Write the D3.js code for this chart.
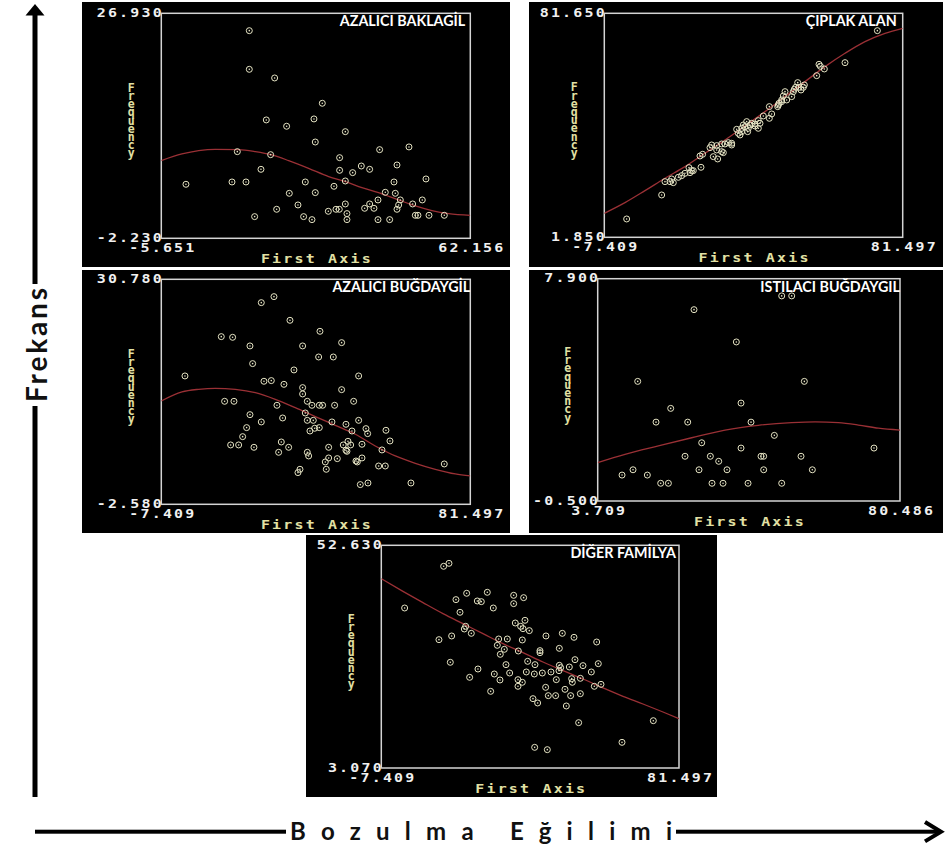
<!DOCTYPE html>
<html><head><meta charset="utf-8">
<script src="https://cdn.jsdelivr.net/npm/d3@7"></script>
<style>body{margin:0;background:#fff;} svg{display:block}</style>
</head><body><svg id="c" width="945" height="846"></svg>
<script>
// ---------------- DATA ----------------
const panelTitles = ["AZALICI BAKLAGİL", "ÇIPLAK ALAN", "AZALICI BUĞDAYGİL", "ISTILACI BUĞDAYGIL", "DİĞER FAMİLYA"];
const xDomains = [[-5.651, 62.156], [-7.409, 81.497], [-7.409, 81.497], [3.709, 80.486], [-7.409, 81.497]];
const yDomains = [[-2.230, 26.930], [1.850, 81.650], [-2.580, 30.780], [-0.500, 7.900], [3.070, 52.630]];
const xTickLabels = [["-5.651", "62.156"], ["-7.409", "81.497"], ["-7.409", "81.497"], ["3.709", "80.486"], ["-7.409", "81.497"]];
const yTickLabels = [["-2.230", "26.930"], ["1.850", "81.650"], ["-2.580", "30.780"], ["-0.500", "7.900"], ["3.070", "52.630"]];
const xAxisTitle = "First Axis";
const yAxisTitle = "Frequency";
const outerYLabel = "Frekans";
const outerXLabel = "Bozulma Eğilimi";

const pointsBaklagil = [[13.66,24.68],[13.66,19.67],[19.22,18.55],[29.68,15.27],[17.39,13.11],[27.85,13.24],[21.85,12.29],[34.73,11.59],[28.14,10.25],[11.03,9.00],[18.34,8.61],[42.26,9.26],[48.70,9.61],[33.48,8.22],[16.22,6.71],[33.48,6.58],[36.34,6.28],[38.24,7.14],[40.07,6.71],[46.07,7.27],[-0.24,4.77],[9.86,5.07],[12.93,5.07],[25.95,5.07],[34.73,5.20],[32.24,4.51],[45.41,5.07],[52.43,5.46],[22.44,3.60],[28.14,3.69],[43.50,3.73],[45.70,3.60],[41.90,2.74],[46.80,2.74],[51.62,2.74],[24.34,2.09],[34.73,2.22],[40.07,2.22],[49.50,2.22],[46.43,2.09],[19.66,1.53],[31.00,1.27],[32.68,1.53],[33.41,1.53],[38.97,1.66],[41.02,1.66],[46.07,1.53],[35.09,0.97],[14.83,0.58],[25.58,0.58],[27.41,0.19],[35.09,0.19],[41.90,0.19],[44.46,0.19],[50.09,0.75],[50.67,0.75],[53.09,0.75],[56.45,0.75]];
const pointsCiplak = [[73.95,75.47],[64.31,64.07],[56.56,63.48],[56.96,62.77],[58.15,61.82],[55.87,59.44],[50.21,56.95],[52.19,56.12],[49.61,55.29],[51.20,54.34],[48.91,53.74],[46.43,53.74],[48.42,51.96],[45.93,52.20],[45.44,50.77],[46.93,50.77],[44.64,49.59],[44.25,48.40],[41.76,48.40],[42.46,45.79],[39.97,45.07],[41.76,44.24],[38.48,43.41],[37.49,42.22],[36.50,42.46],[35.01,43.06],[34.01,41.87],[34.51,41.27],[35.50,40.68],[38.48,40.68],[33.52,39.49],[33.02,38.31],[32.03,40.32],[30.54,35.34],[29.54,35.57],[28.55,35.10],[27.56,35.10],[26.07,34.51],[24.08,33.79],[27.56,32.37],[28.05,32.01],[21.89,31.42],[21.10,30.82],[25.07,30.59],[26.36,29.76],[21.40,26.79],[17.82,26.67],[19.11,25.60],[18.12,24.89],[16.63,24.65],[15.64,23.82],[14.64,23.22],[12.66,22.63],[12.16,21.68],[13.15,21.32],[10.67,21.68],[9.68,16.93],[-0.75,8.38],[33.52,40.68],[37.49,41.51],[44.44,48.99],[45.44,50.18],[49.21,54.57],[50.60,55.29],[51.89,55.29],[36.00,41.87],[38.98,42.46],[35.30,39.49],[32.52,38.90],[26.07,32.96],[24.58,34.74],[30.54,34.74],[18.62,25.60]];
const pointsBugdaygil = [[25.01,28.21],[21.36,27.32],[29.61,24.70],[38.24,23.07],[9.85,22.28],[13.11,22.18],[18.10,20.90],[33.25,20.90],[44.47,21.39],[37.86,19.26],[42.08,19.26],[18.87,18.28],[30.76,17.34],[-0.60,16.45],[49.37,16.45],[22.13,15.66],[24.24,15.76],[27.88,15.21],[33.25,14.72],[33.25,13.78],[44.47,14.42],[10.81,12.69],[13.50,12.69],[34.60,12.69],[35.94,12.10],[38.05,12.10],[39.01,12.10],[42.46,12.10],[25.87,12.10],[47.93,12.69],[18.10,10.71],[34.02,10.96],[27.50,10.22],[21.36,9.63],[34.60,9.87],[36.32,9.87],[41.69,9.63],[49.37,9.87],[45.72,9.28],[17.14,8.79],[38.05,8.79],[36.71,8.69],[35.36,8.29],[47.45,8.29],[51.48,8.64],[51.96,7.90],[57.23,8.39],[15.99,7.45],[58.38,6.81],[12.54,6.22],[14.84,6.22],[19.25,5.87],[27.12,6.66],[29.23,5.87],[40.74,5.87],[44.95,6.22],[46.30,6.76],[47.07,6.22],[50.33,6.32],[45.72,5.43],[26.35,5.13],[34.60,5.13],[34.98,4.59],[40.74,4.29],[43.23,4.19],[39.78,3.70],[48.60,3.84],[50.33,4.29],[56.08,5.48],[55.12,3.10],[57.04,3.10],[40.06,2.61],[32.49,2.61],[31.91,2.12],[49.85,0.34],[52.05,0.58],[64.42,0.58],[74.01,3.40],[46.01,5.28],[48.98,3.70]];
const pointsIstilaci = [[50.44,7.25],[52.98,7.25],[28.17,6.73],[38.92,5.51],[13.87,4.02],[56.19,4.02],[40.11,3.20],[22.25,3.00],[18.52,2.48],[26.57,2.48],[42.65,2.48],[30.12,1.70],[48.57,1.98],[40.11,1.50],[73.88,1.50],[25.89,1.19],[32.32,1.19],[34.44,1.00],[45.19,1.19],[45.86,1.19],[55.35,1.19],[12.68,0.68],[29.44,0.68],[36.55,0.68],[45.86,0.68],[58.22,0.68],[9.89,0.48],[16.32,0.48],[19.71,0.17],[21.66,0.17],[32.74,0.17],[35.54,0.17],[41.89,0.17],[50.44,0.17]];
const pointsDiger = [[11.21,47.96],[12.80,48.62],[-0.44,38.68],[14.89,40.54],[18.08,41.95],[24.25,42.17],[21.26,40.24],[22.46,40.09],[26.04,38.68],[32.12,41.50],[32.12,39.65],[35.10,40.98],[16.09,37.72],[32.61,35.34],[35.50,35.94],[34.21,34.60],[34.90,34.08],[36.79,33.64],[17.78,34.60],[17.38,34.01],[19.47,33.04],[9.81,31.63],[13.60,32.45],[27.64,31.78],[30.22,31.78],[34.70,31.56],[41.77,32.45],[46.65,33.04],[50.14,32.15],[56.91,31.11],[27.24,30.37],[29.33,29.48],[28.13,28.37],[33.51,29.11],[39.98,29.19],[39.98,28.74],[45.76,29.70],[13.20,26.59],[36.30,26.81],[38.49,26.07],[29.83,26.07],[45.76,25.92],[46.15,25.40],[48.74,25.55],[50.43,27.18],[52.82,25.85],[57.40,26.29],[21.46,25.10],[26.34,23.99],[30.92,24.21],[35.90,24.44],[38.29,23.99],[40.68,24.21],[43.27,24.44],[45.66,24.73],[55.31,24.44],[18.97,23.25],[28.03,22.66],[33.41,22.73],[34.70,22.14],[33.41,21.25],[44.86,22.73],[49.44,22.95],[49.64,22.14],[52.03,23.03],[56.21,21.25],[58.20,21.69],[25.25,20.13],[41.67,21.02],[47.45,20.58],[42.47,19.17],[44.66,19.17],[49.14,19.17],[52.03,19.61],[37.89,18.50],[39.28,17.54],[47.85,16.87],[51.53,13.16],[38.39,7.67],[42.17,7.15],[64.47,8.78],[73.83,13.60]];

const curveBaklagil = [[-5.651,7.84],[-1.12,8.70],[2.54,9.13],[6.20,9.30],[11.32,9.26],[14.98,9.00],[18.63,8.57],[22.29,7.84],[26.68,6.84],[31.07,5.76],[34.73,5.11],[38.38,4.34],[42.77,3.52],[46.43,2.74],[50.09,1.96],[53.74,1.36],[57.40,0.97],[62.156,0.75]];
const curveCiplak = [[-7.409,10.40],[-1.25,14.20],[4.71,18.47],[10.67,22.87],[16.63,27.02],[22.59,31.77],[28.55,36.52],[34.51,41.51],[40.47,46.62],[46.43,51.96],[52.39,57.31],[58.35,62.65],[64.31,67.40],[70.27,71.56],[76.23,74.52],[81.497,76.31]];
const curveBugdaygil = [[-7.409,12.74],[-1.46,14.08],[3.33,14.47],[8.13,14.62],[13.88,14.47],[19.64,13.98],[25.39,12.99],[31.14,11.75],[36.90,10.42],[42.65,9.13],[48.41,7.80],[54.16,6.07],[59.92,4.59],[65.67,3.50],[71.43,2.61],[77.18,1.92],[81.497,1.62]];
const curveIstilaci = [[3.709,0.95],[10.65,1.26],[19.12,1.58],[27.58,1.89],[36.05,2.18],[44.51,2.36],[52.98,2.46],[58.90,2.49],[64.83,2.46],[69.91,2.37],[74.98,2.25],[80.486,2.18]];
const curveDiger = [[-7.409,45.21],[-0.94,42.39],[5.04,39.87],[11.01,37.42],[16.98,35.19],[22.96,32.97],[28.93,30.74],[34.90,28.74],[40.88,26.66],[46.85,24.73],[52.82,22.88],[58.80,20.88],[64.77,19.02],[70.74,17.31],[76.72,15.53],[81.497,14.05]];

const panelPoints = [pointsBaklagil, pointsCiplak, pointsBugdaygil, pointsIstilaci, pointsDiger];
const panelCurves = [curveBaklagil, curveCiplak, curveBugdaygil, curveIstilaci, curveDiger];

// ---------------- LAYOUT ----------------
const layout = [
  {bg:[82,2,428,265],  frame:[161.3,13.3,470.3,238.3], titleDx:-5},
  {bg:[529,2,414,265], frame:[604.3,13.3,902.7,237.3], titleDx:-6},
  {bg:[82,270,428,263], frame:[161.3,279.3,470.3,504.3], titleDx:0},
  {bg:[529,270,414,263], frame:[597.7,278.7,900,501], titleDx:0},
  {bg:[306,535,411,262], frame:[381.3,545.3,679,768], titleDx:-3}
];

const svg = d3.select("#c");
const MONO = "'DejaVu Sans Mono', monospace";
const SX = 1.3;      // horizontal stretch of the pixel-like font
const LS = 1.7;      // letter spacing before stretch
const LABEL = "#f0f0f0", YEL = "#e2e0a4";

function monoStyle(sel, color) {
  sel.attr("fill", color).style("font-family", MONO).style("font-weight", "bold")
    .style("font-size", "11.5px").style("letter-spacing", LS + "px");
}

layout.forEach((lay, p) => {
  const [L, T, R, B] = lay.frame;
  const g = svg.append("g");
  g.append("rect").attr("x", lay.bg[0]).attr("y", lay.bg[1]).attr("width", lay.bg[2]).attr("height", lay.bg[3]).attr("fill", "#000");

  const x = d3.scaleLinear().domain(xDomains[p]).range([L, R]);
  const y = d3.scaleLinear().domain(yDomains[p]).range([B, T]);

  const clipId = "clip" + p;
  g.append("clipPath").attr("id", clipId).append("rect").attr("x", L).attr("y", T).attr("width", R - L).attr("height", B - T);

  // axes (labels only at domain ends)
  const xa = g.append("g").attr("transform", `translate(0,${B})`)
    .call(d3.axisBottom(x).tickValues(xDomains[p]).tickSize(0).tickPadding(5.5).tickFormat((d, i) => xTickLabels[p][i]));
  const ya = g.append("g").attr("transform", `translate(${L},0)`)
    .call(d3.axisLeft(y).tickValues(yDomains[p]).tickSize(0).tickPadding(-2).tickFormat((d, i) => yTickLabels[p][i]));
  [xa, ya].forEach(a => {
    a.select(".domain").remove();
    monoStyle(a.selectAll("text"), LABEL);
    a.selectAll("text").attr("transform", `scale(${SX},1)`);
  });
  xa.selectAll("text").attr("dx", LS / 2);
  ya.selectAll("text").attr("dy", "0.27em");

  // frame
  g.append("rect").attr("x", L).attr("y", T).attr("width", R - L).attr("height", B - T)
    .attr("fill", "none").attr("stroke", "#d4d4d4").attr("stroke-width", 1.5);

  // x-axis title
  const xt = g.append("g").attr("transform", `translate(${(L + R) / 2},${B + 25}) scale(${SX},1)`);
  monoStyle(xt.append("text").attr("x", LS / 2).attr("text-anchor", "middle").text(xAxisTitle), YEL);

  // y-axis title, upright letters stacked vertically
  const mid = (T + B) / 2 - 8;
  g.append("text").attr("x", L - 30).attr("y", mid).attr("text-anchor", "middle")
    .attr("fill", YEL).style("font-family", MONO).style("font-weight", "bold").style("font-size", "11.5px")
    .style("writing-mode", "vertical-rl").style("text-orientation", "upright")
    .style("letter-spacing", "-5.8px").text(yAxisTitle);

  // title
  g.append("text").attr("x", R + lay.titleDx).attr("y", T + 12.8).attr("text-anchor", "end")
    .attr("fill", "#ffffff").style("font-family", "Lato, 'Liberation Sans', sans-serif").style("font-weight", "bold")
    .style("font-size", "14.3px").text(panelTitles[p]);

  // fitted curve
  g.append("path").attr("clip-path", `url(#${clipId})`)
    .attr("d", d3.line().x(d => x(d[0])).y(d => y(d[1])).curve(d3.curveMonotoneX)(panelCurves[p]))
    .attr("fill", "none").attr("stroke", "#9a3035").attr("stroke-width", 1.3);

  // points
  const pts = g.append("g");
  pts.selectAll("circle.ring").data(panelPoints[p]).join("circle").attr("class", "ring")
    .attr("cx", d => x(d[0])).attr("cy", d => y(d[1])).attr("r", 3)
    .attr("fill", "none").attr("stroke", "#e6e4c4").attr("stroke-width", 1);
  pts.selectAll("circle.dot").data(panelPoints[p]).join("circle").attr("class", "dot")
    .attr("cx", d => x(d[0])).attr("cy", d => y(d[1])).attr("r", 0.8).attr("fill", "#e6e4c4");
});

// ---------------- OUTER ARROWS ----------------
// vertical arrow
svg.append("rect").attr("x", 32.5).attr("y", 14).attr("width", 5).attr("height", 783).attr("fill", "#000");
svg.append("path").attr("d", "M35,4 L44.5,15.5 L25.5,15.5 Z").attr("fill", "#000");
svg.append("rect").attr("x", 16).attr("y", 284).attr("width", 38).attr("height", 122).attr("fill", "#fff");
svg.append("text").attr("transform", "translate(47,345) rotate(-90)").attr("text-anchor", "middle")
  .attr("fill", "#111").style("font-family", "Lato, sans-serif").style("font-weight", "bold").style("font-size", "28px")
  .attr("textLength", 114).attr("lengthAdjust", "spacing").text(outerYLabel);

// horizontal arrow
svg.append("rect").attr("x", 35).attr("y", 829.7).attr("width", 904).attr("height", 4).attr("fill", "#000");
svg.append("path").attr("d", "M925,822 L941,831.7 L925,841.4").attr("fill", "none").attr("stroke", "#000").attr("stroke-width", 4).attr("stroke-linejoin", "miter");
svg.append("rect").attr("x", 286).attr("y", 815).attr("width", 390).attr("height", 31).attr("fill", "#fff");
svg.append("text").attr("x", 290).attr("y", 840).attr("fill", "#111")
  .style("font-family", "Lato, sans-serif").style("font-weight", "bold").style("font-size", "24px")
  .attr("textLength", 382).attr("lengthAdjust", "spacing").text(outerXLabel);
</script></body></html>
